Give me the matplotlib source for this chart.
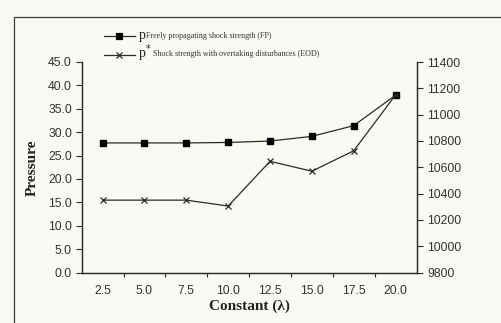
import matplotlib
matplotlib.use("Agg")
import matplotlib.pyplot as plt
from matplotlib.lines import Line2D
from matplotlib.patches import Rectangle
from matplotlib.ticker import FixedLocator, FormatStrFormatter

# data
lam_labels = ["2.5", "5.0", "7.5", "10.0", "12.5", "15.0", "17.5", "20.0"]
p_fp = [27.7, 27.7, 27.7, 27.8, 28.1, 29.1, 31.4, 37.9]           # left axis
p_eod = [10350, 10350, 10350, 10305, 10645, 10570, 10725, 11150]  # right axis

W, H = 502, 323
bg = "#fbf9f5"
ink = "#2a2a2a"

def fx(px):
    return px / W

def fy(py):
    return 1 - py / H

fig = plt.figure(figsize=(W / 100, H / 100), dpi=100, facecolor=bg)
ax = fig.add_axes([fx(81.7), fy(272.5), fx(416.5) - fx(81.7), fy(62) - fy(272.5)])
ax.set_facecolor(bg)
ax2 = ax.twinx()

xs = list(range(len(lam_labels)))
ax.plot(xs, p_fp, color=ink, lw=0.9, marker="s", ms=4.8, mfc="black", mec="black")
ax2.plot(xs, p_eod, color=ink, lw=0.9, marker="x", ms=4.8, mew=0.9, mec=ink)

ax.set_xlim(-0.5, len(xs) - 0.5)
ax.set_ylim(0, 45)
ax2.set_ylim(9800, 11400)
ax.set_yticks([0, 5, 10, 15, 20, 25, 30, 35, 40, 45])
ax.yaxis.set_major_formatter(FormatStrFormatter("%.1f"))
ax2.set_yticks(range(9800, 11401, 200))

ax.set_xticks(xs)
ax.set_xticklabels(lam_labels)
ax.xaxis.set_minor_locator(FixedLocator([x + 0.5 for x in xs[:-1]]))
ax.tick_params(axis="x", which="major", length=0, pad=9)
ax.tick_params(axis="x", which="minor", length=3, width=0.8, color=ink, direction="out")

for a in (ax, ax2):
    a.spines["top"].set_visible(False)
    for s in ("left", "right", "bottom"):
        a.spines[s].set_color(ink)
        a.spines[s].set_linewidth(0.9)
    a.tick_params(labelsize=8.8, labelcolor="#333333", color=ink, width=0.8)
    for lab in a.get_xticklabels() + a.get_yticklabels():
        lab.set_fontfamily("Liberation Sans")
ax.tick_params(axis="y", length=4, pad=3)
ax2.tick_params(axis="y", length=4, pad=4)

ax.set_ylabel("Pressure", fontsize=11, fontweight="bold", family="Liberation Serif",
              color="#222222", labelpad=7)
ax.set_xlabel("Constant (\u03bb)", fontsize=11, fontweight="bold", family="Liberation Serif",
              color="#222222", labelpad=2)

# legend drawn by hand at the top
for py, marker, big, small, sx in [
    (36, "s", "p", "Freely propagating shock strength (FP)", 146.5),
    (54.5, "x", "p$^{*}$", "Shock strength with overtaking disturbances (EOD)", 153),
]:
    fig.add_artist(Line2D([fx(104), fx(119.5), fx(135)], [fy(py)] * 3, color=ink, lw=0.9,
                          marker=marker, markevery=[1], ms=4, mew=0.9,
                          mfc="black", mec="black" if marker == "s" else ink))
    fig.text(fx(138.5), fy(py + 3), big, fontsize=10, family="Liberation Serif",
             color="#222222", ha="left", va="baseline")
    fig.text(fx(sx), fy(py + 2), small, fontsize=5.8, family="Liberation Serif",
             color="#333333", ha="left", va="baseline")

# scanned page frame
fig.add_artist(Rectangle((fx(14), -0.1), 1.2, fy(17) + 0.1, transform=fig.transFigure,
                         fill=False, edgecolor="#3a3a3a", lw=0.9, clip_on=False))

fig.savefig("out.png", dpi=100, facecolor=bg)
